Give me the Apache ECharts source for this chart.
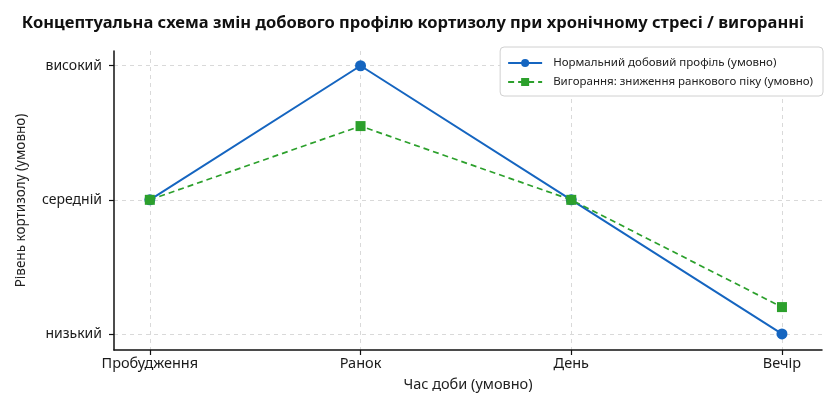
<!DOCTYPE html>
<html>
<head>
<meta charset="utf-8">
<script src="https://cdn.jsdelivr.net/npm/echarts@6/dist/echarts.min.js"></script>
<style>
  html, body { margin: 0; padding: 0; background: #ffffff; }
  #chart { width: 826px; height: 395px; }
</style>
</head>
<body>
<div id="chart"></div>
<script>
// Time-of-day categories (x positions 0..3)
const timeLabels = ['Пробудження', 'Ранок', 'День', 'Вечір'];
// Cortisol level tick labels for values 1, 2, 3
const levelValues = [1, 2, 3];
const levelLabels = ['низький', 'середній', 'високий'];
// Conceptual profiles
const normalProfile = [2, 3, 2, 1];
const burnoutProfile = [2, 2.55, 2, 1.2];

const seriesNames = [
  'Нормальний добовий профіль (умовно)',
  'Вигорання: зниження ранкового піку (умовно)'
];

const xPositions = timeLabels.map((_, i) => i);
const toPairs = vals => vals.map((v, i) => [xPositions[i], v]);

const font = 'Noto Sans';
const chart = echarts.init(document.getElementById('chart'), null, { renderer: 'canvas' });

chart.setOption({
  animation: false,
  backgroundColor: '#ffffff',
  title: {
    text: 'Концептуальна схема змін добового профілю кортизолу при хронічному стресі / вигоранні',
    left: 'center',
    top: 10,
    textStyle: { fontFamily: font, fontSize: 16.5, fontWeight: 'bold', color: '#111' }
  },
  legend: {
    orient: 'vertical',
    right: 3,
    top: 47,
    itemWidth: 34,
    itemHeight: 10,
    itemGap: 7,
    padding: [10, 10, 8, 7],
    backgroundColor: '#ffffff',
    borderColor: '#d0d0d0',
    borderWidth: 1,
    borderRadius: 4,
    textStyle: { fontFamily: font, fontSize: 11.5, color: '#222', padding: [0, 0, 0, 6] },
    data: seriesNames
  },
  grid: { left: 114, right: 4, top: 51, bottom: 45, containLabel: false, outerBoundsMode: 'none' },
  xAxis: {
    type: 'value',
    min: -0.17,
    max: 3.19,
    name: 'Час доби (умовно)',
    nameLocation: 'middle',
    nameGap: 27,
    nameTextStyle: { fontFamily: font, fontSize: 14.5, color: '#222' },
    axisLine: { show: true, onZero: false, lineStyle: { color: '#111', width: 1.5 } },
    axisTick: { show: true, length: 5, customValues: xPositions, lineStyle: { color: '#111', width: 1.2 } },
    axisLabel: {
      customValues: xPositions,
      formatter: v => timeLabels[Math.round(v)] || '',
      fontFamily: font, fontSize: 14.5, color: '#1a1a1a', margin: 6
    },
    splitLine: { show: true, lineStyle: { type: [4, 4], color: '#d9d9d9', width: 1 } }
  },
  yAxis: {
    type: 'value',
    min: 0.88,
    max: 3.11,
    name: 'Рівень кортизолу (умовно)',
    nameLocation: 'middle',
    nameGap: 86,
    nameTextStyle: { fontFamily: font, fontSize: 13.5, color: '#222' },
    axisLine: { show: true, onZero: false, lineStyle: { color: '#111', width: 1.5 } },
    axisTick: { show: true, length: 5, customValues: levelValues, lineStyle: { color: '#111', width: 1.2 } },
    axisLabel: {
      customValues: levelValues,
      formatter: v => levelLabels[levelValues.indexOf(Math.round(v))] || '',
      fontFamily: font, fontSize: 14, color: '#1a1a1a', margin: 12
    },
    splitLine: { show: true, lineStyle: { type: [4, 4], color: '#d9d9d9', width: 1 } }
  },
  series: [
    {
      name: seriesNames[0],
      type: 'line',
      data: toPairs(normalProfile),
      symbol: 'circle',
      symbolSize: 11,
      itemStyle: { color: '#1565c0' },
      lineStyle: { color: '#1565c0', width: 2 },
      z: 3
    },
    {
      name: seriesNames[1],
      type: 'line',
      data: toPairs(burnoutProfile),
      symbol: 'rect',
      symbolSize: 10,
      itemStyle: { color: '#2ca02c' },
      lineStyle: { color: '#2ca02c', width: 1.7, type: [6, 4] },
      z: 4
    }
  ]
});
</script>
</body>
</html>
